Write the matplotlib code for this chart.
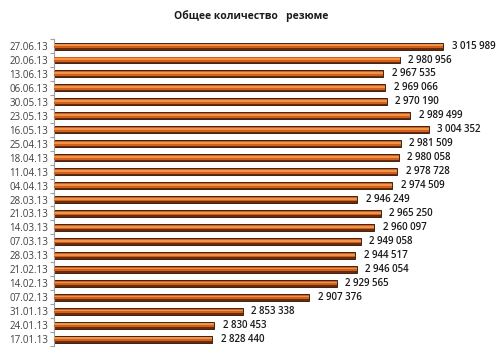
import matplotlib
matplotlib.use('Agg')
import matplotlib.pyplot as plt
import numpy as np

# data, top to bottom as in the chart
dates = ['27.06.13', '20.06.13', '13.06.13', '06.06.13', '30.05.13', '23.05.13',
         '16.05.13', '25.04.13', '18.04.13', '11.04.13', '04.04.13', '28.03.13',
         '21.03.13', '14.03.13', '07.03.13', '28.03.13', '21.02.13', '14.02.13',
         '07.02.13', '31.01.13', '24.01.13', '17.01.13']
values = [3015989, 2980956, 2967535, 2969066, 2970190, 2989499,
          3004352, 2981509, 2980058, 2978728, 2974509, 2946249,
          2965250, 2960097, 2949058, 2944517, 2946054, 2929565,
          2907376, 2853338, 2830453, 2828440]
x_start = 2700000
x_end = 3050000
title = 'Общее количество   резюме'

plt.rcParams['font.family'] = ['Open Sans', 'DejaVu Sans']

fig = plt.figure(figsize=(5.03, 3.54), dpi=100)
ax = fig.add_axes([0.107, 0.0226, 0.857, 0.867])

y = np.arange(len(dates))
widths = [v - x_start for v in values]

# fake the gradient: dark outer bar, orange middle, light stripe
ax.barh(y, widths, left=x_start, height=0.5, color='#6b2a08',
        edgecolor='#2a1205', linewidth=0.6, zorder=2)
ax.barh(y - 0.02, widths, left=x_start, height=0.32, color='#d2601c', linewidth=0, zorder=3)
ax.barh(y - 0.05, widths, left=x_start, height=0.13, color='#f29448', linewidth=0, zorder=4)

for yi, v in zip(y, values):
    label = '{:,}'.format(v).replace(',', ' ')
    ax.text(v + 7000, yi, label, va='center', ha='left', fontsize=7,
            color='#1a1a1a', fontweight='semibold')

ax.set_xlim(x_start, x_end)
ax.set_ylim(len(dates) - 0.5, -0.5)
ax.set_yticks(y)
ax.set_yticklabels(dates, fontsize=7, color='#404040')
ax.set_yticks(np.arange(len(dates) + 1) - 0.5, minor=True)
ax.tick_params(axis='y', which='major', length=0, pad=4)
ax.tick_params(axis='y', which='minor', length=3, color='#a0a0a0', width=0.8)
ax.set_xticks([])
for s in ['top', 'right', 'bottom']:
    ax.spines[s].set_visible(False)
ax.spines['left'].set_color('#a0a0a0')
ax.spines['left'].set_linewidth(0.8)

fig.text(0.5, 0.955, title, ha='center', va='center', fontsize=7.5,
         fontweight='bold', color='#1a1a1a')

fig.savefig('out.png', dpi=100)
